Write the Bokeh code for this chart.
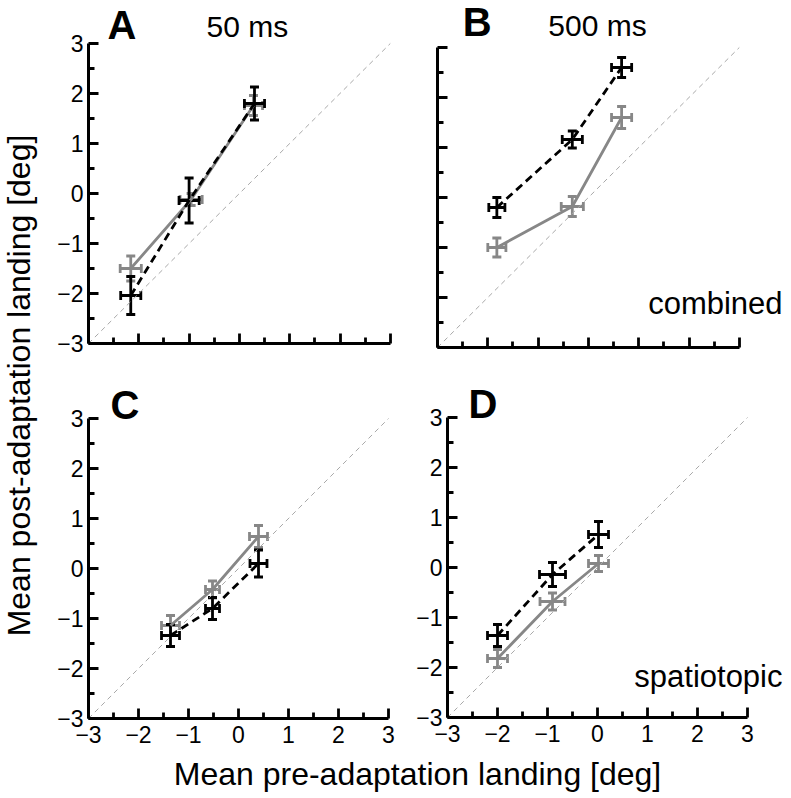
import math
from bokeh.plotting import figure
from bokeh.models import (ColumnDataSource, Whisker, TeeHead, Label, FixedTicker)
from bokeh.layouts import row, column
from bokeh.embed import file_html
from bokeh.resources import INLINE

# ---------------- data ----------------
AXIS_LIM = [-3, 3]
TICKS = [-3, -2, -1, 0, 1, 2, 3]
MINOR_TICKS = [-2.5, -1.5, -0.5, 0.5, 1.5, 2.5]
TICK_LABELS = ["\u22123", "\u22122", "\u22121", "0", "1", "2", "3"]

# Panel A (50 ms, combined)
A_gray_x = [-2.16, -0.96, 0.28]
A_gray_y = [-1.50, -0.12, 1.76]
A_gray_xerr = [0.21, 0.22, 0.18]
A_gray_yerr = [0.25, 0.12, 0.20]
A_black_x = [-2.16, -1.00, 0.30]
A_black_y = [-2.04, -0.14, 1.80]
A_black_xerr = [0.20, 0.20, 0.20]
A_black_yerr = [0.38, 0.45, 0.33]

# Panel B (500 ms, combined)
B_gray_x = [-1.82, -0.32, 0.66]
B_gray_y = [-1.00, -0.18, 1.60]
B_gray_xerr = [0.18, 0.22, 0.20]
B_gray_yerr = [0.19, 0.20, 0.22]
B_black_x = [-1.82, -0.32, 0.66]
B_black_y = [-0.20, 1.16, 2.60]
B_black_xerr = [0.16, 0.20, 0.20]
B_black_yerr = [0.20, 0.17, 0.20]

# Panel C (50 ms, spatiotopic)
C_gray_x = [-1.36, -0.52, 0.40]
C_gray_y = [-1.14, -0.42, 0.64]
C_gray_xerr = [0.18, 0.14, 0.18]
C_gray_yerr = [0.20, 0.17, 0.22]
C_black_x = [-1.36, -0.52, 0.40]
C_black_y = [-1.34, -0.80, 0.10]
C_black_xerr = [0.18, 0.14, 0.17]
C_black_yerr = [0.22, 0.22, 0.27]

# Panel D (500 ms, spatiotopic)
D_gray_x = [-2.00, -0.90, 0.02]
D_gray_y = [-1.82, -0.68, 0.08]
D_gray_xerr = [0.20, 0.25, 0.20]
D_gray_yerr = [0.18, 0.17, 0.16]
D_black_x = [-2.00, -0.90, 0.02]
D_black_y = [-1.36, -0.14, 0.66]
D_black_xerr = [0.20, 0.26, 0.20]
D_black_yerr = [0.22, 0.24, 0.26]

X_LABEL = "Mean pre-adaptation landing [deg]"
Y_LABEL = "Mean post-adaptation landing [deg]"

FONT = "Liberation Sans"
GRAY = "#878787"
BLACK = "#000000"
LW = 2.8
BASE_SHIFT = 0.4  # empirical baseline correction (fraction of font size)


def add_series(p, xs, ys, xe, ye, color, dash):
    src = ColumnDataSource(dict(
        x=xs, y=ys,
        xlo=[a - e for a, e in zip(xs, xe)], xhi=[a + e for a, e in zip(xs, xe)],
        ylo=[a - e for a, e in zip(ys, ye)], yhi=[a + e for a, e in zip(ys, ye)],
    ))
    p.line("x", "y", source=src, line_color=color, line_width=LW, line_dash=dash)
    for dim, base, lo, hi in (("height", "x", "ylo", "yhi"), ("width", "y", "xlo", "xhi")):
        w = Whisker(source=src, base=base, lower=lo, upper=hi, dimension=dim,
                    line_color=color, line_width=LW,
                    lower_head=TeeHead(size=9, line_color=color, line_width=LW),
                    upper_head=TeeHead(size=9, line_color=color, line_width=LW))
        p.add_layout(w)


def panel(bl, bb, fw, fh, sx, sy, show_x, show_y):
    # frame starts at the axis origin (-3,-3) and extends right/up so texts fit inside
    p = figure(frame_width=fw, frame_height=fh,
               x_range=(AXIS_LIM[0], AXIS_LIM[0] + fw / sx),
               y_range=(AXIS_LIM[0], AXIS_LIM[0] + fh / sy),
               output_backend="svg", toolbar_location=None,
               min_border_left=bl, min_border_right=0,
               min_border_top=0, min_border_bottom=bb)
    p.outline_line_color = None
    p.grid.visible = False
    for ax, show in ((p.xaxis, show_x), (p.yaxis, show_y)):
        ax.bounds = (AXIS_LIM[0], AXIS_LIM[1])
        ax.ticker = FixedTicker(ticks=TICKS, minor_ticks=MINOR_TICKS)
        ax.axis_line_width = 3
        ax.axis_line_color = "black"
        ax.major_tick_in = 10
        ax.major_tick_out = 0
        ax.minor_tick_in = 6
        ax.minor_tick_out = 0
        ax.major_tick_line_width = 2.8
        ax.minor_tick_line_width = 2.8
        ax.major_tick_line_color = "black"
        ax.minor_tick_line_color = "black"
        ax.major_label_text_font = FONT
        ax.major_label_text_font_size = "23px"
        ax.major_label_text_color = "black"
        if show:
            ax.major_label_overrides = {float(t): s for t, s in zip(TICKS, TICK_LABELS)}
        else:
            ax.major_label_overrides = {float(t): "" for t in TICKS}
    p.xaxis.major_label_standoff = 7
    p.yaxis.major_label_standoff = 5
    # identity line
    p.line(AXIS_LIM, AXIS_LIM, line_color="#a8a8a8", line_width=1, line_dash="5 4")
    return p


def label(p, x, y, text, fs, sy=50.0, bold=False, align="left"):
    p.add_layout(Label(x=x, y=y + BASE_SHIFT * fs / sy, text=text, text_font=FONT,
                       text_font_size=f"{fs}px",
                       text_font_style="bold" if bold else "normal", text_align=align,
                       text_baseline="alphabetic", text_color="black"))


# row 1 (height 370)
pA = panel(48, 27, 309, 343, 50.3, 50, False, True)
add_series(pA, A_gray_x, A_gray_y, A_gray_xerr, A_gray_yerr, GRAY, "solid")
add_series(pA, A_black_x, A_black_y, A_black_xerr, A_black_yerr, BLACK, "8 5")
label(pA, -2.62, 3.06, "A", 40, bold=True)
label(pA, 0.16, 3.1, "50 ms", 30, align="center")

pB = panel(40, 23, 353, 347, 50.3, 50, False, False)
add_series(pB, B_gray_x, B_gray_y, B_gray_xerr, B_gray_yerr, GRAY, "solid")
add_series(pB, B_black_x, B_black_y, B_black_xerr, B_black_yerr, BLACK, "8 5")
label(pB, -2.5, 3.2, "B", 40, bold=True)
label(pB, 0.18, 3.2, "500 ms", 30, align="center")
label(pB, 3.86, -2.36, "combined", 31, align="right")

# row 2 (height 386)
pC = panel(48, 38, 319, 348, 50, 50, True, True)
add_series(pC, C_gray_x, C_gray_y, C_gray_xerr, C_gray_yerr, GRAY, "solid")
add_series(pC, C_black_x, C_black_y, C_black_xerr, C_black_yerr, BLACK, "8 5")
label(pC, -2.56, 2.96, "C", 40, bold=True)

pD = panel(40, 39, 343, 347, 50, 50, True, True)
add_series(pD, D_gray_x, D_gray_y, D_gray_xerr, D_gray_yerr, GRAY, "solid")
add_series(pD, D_black_x, D_black_y, D_black_xerr, D_black_yerr, BLACK, "8 5")
label(pD, -2.58, 2.96, "D", 40, bold=True)
label(pD, 3.7, -2.42, "spatiotopic", 31, align="right")


def blank(w, h):
    q = figure(frame_width=w, frame_height=h, x_range=(0, w), y_range=(0, h),
               output_backend="svg", toolbar_location=None, min_border=0,
               x_axis_type=None, y_axis_type=None)
    q.outline_line_color = None
    q.grid.visible = False
    return q


ylab = blank(40, 756)
ylab.add_layout(Label(x=31 - BASE_SHIFT * 32, y=371, text=Y_LABEL, angle=math.pi / 2,
                      text_font=FONT, text_font_size="32px", text_align="center",
                      text_baseline="alphabetic", text_color="black"))

xlab = blank(790, 41)
xlab.add_layout(Label(x=417, y=11 + BASE_SHIFT * 32, text=X_LABEL, text_font=FONT,
                      text_font_size="32px", text_align="center",
                      text_baseline="alphabetic", text_color="black"))

layout = column(row(ylab, column(row(pA, pB), row(pC, pD))), xlab)

open("out.html", "w").write(file_html(layout, INLINE))
